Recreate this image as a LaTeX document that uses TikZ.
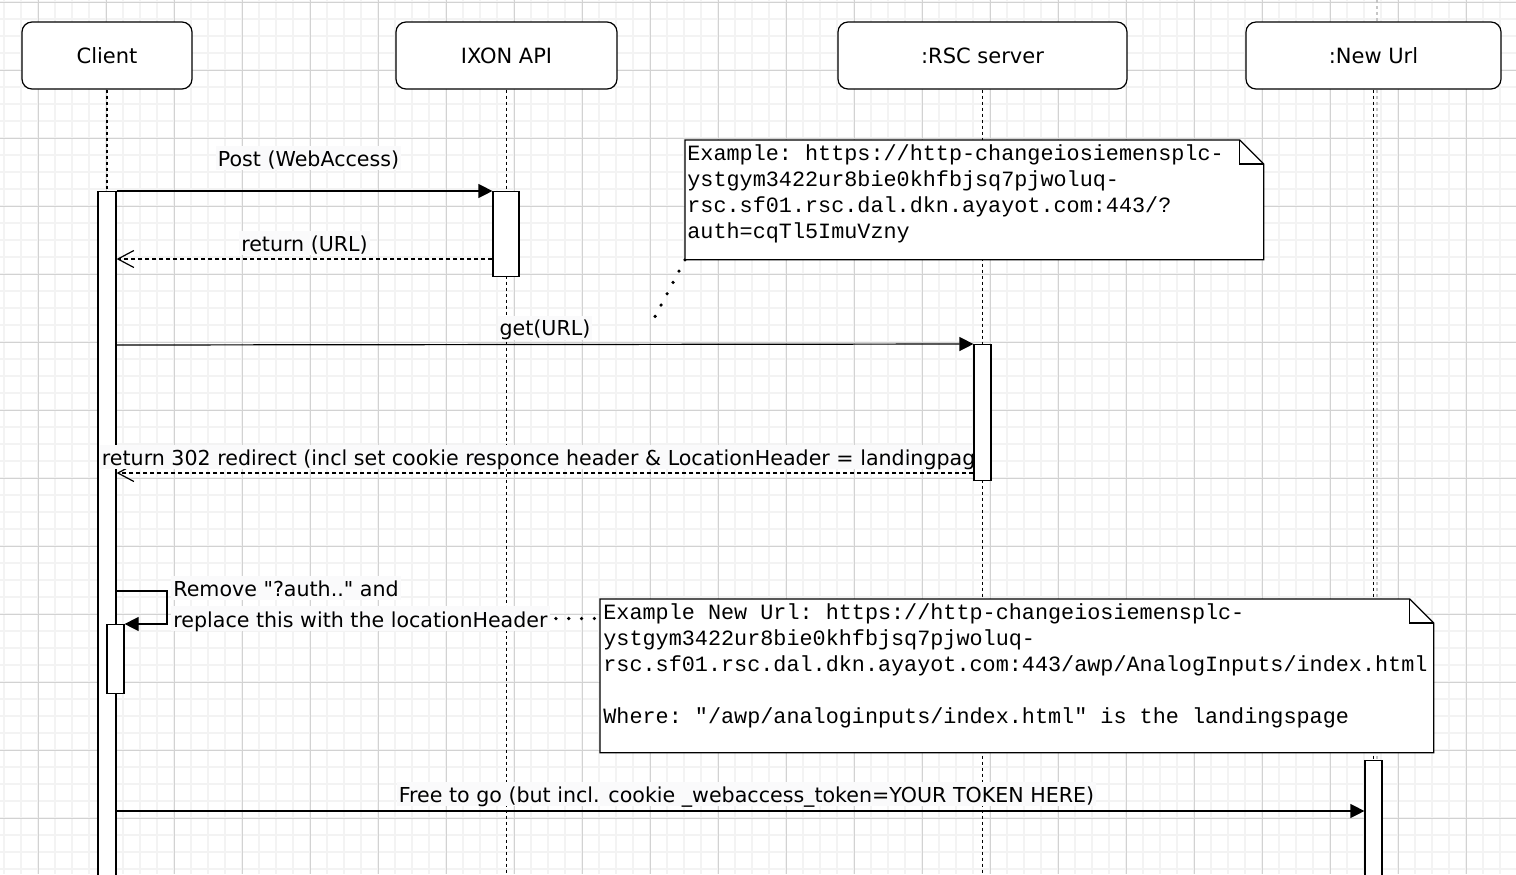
\documentclass[tikz,border=0pt]{standalone}
\usepackage{fontspec}
\setmainfont{DejaVu Sans}[Ligatures=TeXOff]
\setmonofont{Liberation Mono}
\usetikzlibrary{arrows.meta,positioning}
\definecolor{gridminor}{RGB}{243,243,243}
\definecolor{gridmajor}{RGB}{210,210,210}
\definecolor{lblbg}{RGB}{250,250,251}

\tikzset{
  head/.style={draw, rounded corners=5pt, line width=0.6pt, fill=white,
               minimum height=33.5pt, font=\fontsize{10.5}{12}\selectfont},
  life/.style={dash pattern=on 1.5pt off 1.5pt, line width=0.65pt},
  act/.style={draw, fill=white, line width=0.6pt, inner sep=0pt},
  msg/.style={-{Triangle[length=7pt,width=7pt]}, line width=0.6pt},
  ret/.style={-{Straight Barb[length=8pt,width=8.5pt]}, line width=0.6pt,
              dash pattern=on 2pt off 1.5pt},
  lbl/.style={font=\fontsize{10.3}{12}\selectfont, fill=lblbg, inner xsep=1pt,
              inner ysep=0pt, text height=10pt, text depth=2pt},
  notebox/.style={inner sep=0pt},
  notetext/.style={font=\ttfamily\fontsize{10.9}{13}\selectfont, align=left, inner sep=0pt},
  dots/.style={line width=1.8pt, line cap=round, dash pattern=on 0pt off 6.4pt},
}

\begin{document}
\begin{tikzpicture}[x=0.5pt, y=-0.5pt]
  \useasboundingbox[fill=white] (0,0) rectangle (1516,874);

  % grid
  \foreach \x in {4,21,...,1516} \draw[gridminor, line width=0.9pt] (\x,0) -- (\x,874);
  \foreach \y in {2,19,...,874} \draw[gridminor, line width=0.9pt] (0,\y) -- (1516,\y);
  \foreach \x in {38,106,...,1516} \draw[gridmajor, line width=0.5pt] (\x,0) -- (\x,874);
  \foreach \y in {2,70,...,874} \draw[gridmajor, line width=0.5pt] (0,\y) -- (1516,\y);

  \draw[life, gray!45] (1377,0) -- (1377,874);

  % lifelines
  \node[head, minimum width=85pt]    (client) at (107,55.5)    {Client};
  \node[head, minimum width=110.5pt] (ixon)   at (506.5,55.5)  {IXON API};
  \node[head, minimum width=144.5pt] (rsc)    at (982.5,55.5)  {:RSC server};
  \node[head, minimum width=127.5pt] (newurl) at (1373.5,55.5) {:New Url};
  \foreach \n in {client,ixon,rsc,newurl}
    \draw[life] (\n.south) -- (\n.south |- 0,874);

  % activations
  \node[act, minimum width=9pt,   minimum height=349.5pt, anchor=north] (aclient) at (107,191)    {};
  \node[act, minimum width=13pt,  minimum height=42.5pt,  anchor=north] (aixon)   at (506,191)    {};
  \node[act, minimum width=8.5pt, minimum height=68pt,    anchor=north] (arsc)    at (982.5,344)  {};
  \node[act, minimum width=8.5pt, minimum height=65pt,    anchor=north] (anew)    at (1373.5,760) {};

  % messages
  \draw[msg] (aclient.north east) -- node[lbl, midway, anchor=base, yshift=12.5pt, xshift=2pt] (lpost) {Post (WebAccess)} (aixon.north west);
  \draw[ret] (aixon.west |- 0,259) -- node[lbl, midway, anchor=base, yshift=4pt] (lurl) {return (URL)} (aclient.east |- 0,259);
  \draw[msg] (aclient.east |- 0,345) -- node[lbl, midway, anchor=base, yshift=4.5pt] (lget) {get(URL)} (arsc.north west);
  \draw[ret] (arsc.west |- 0,473) -- node[lbl, midway, anchor=base, yshift=4pt] (lredir) {return 302 redirect (incl set cookie responce header \& LocationHeader = landingpage} (aclient.east |- 0,473);
  \draw[msg] (aclient.east |- 0,811) -- node[lbl, midway, anchor=base, yshift=4.5pt, xshift=3pt] (lfree) {Free to go (but incl. cookie \_webaccess\_token=YOUR TOKEN HERE)} (anew.west |- 0,811);

  % rsc activation drawn over the long label
  \node[act, minimum width=8.5pt, minimum height=68pt, anchor=north] at (982.5,344) {};

  % self call
  \node[act, minimum width=8.5pt, minimum height=34.5pt, anchor=north] (aself) at (115.5,624) {};
  \coordinate (selfturn) at (167,624);
  \draw[msg] (aclient.east |- 0,591) -| (selfturn) -- (aself.north east);
  \node[lbl, anchor=base west] (lself1) at (171,596) {Remove "?auth.." and};
  \node[lbl, anchor=base west, text height=10.5pt] (lself2) at (171,627) {replace this with the locationHeader};

  % notes
  \node[notebox, minimum width=289pt, minimum height=59.5pt, anchor=north west] (note1) at (685,140) {};
  \node[notebox, minimum width=416.5pt, minimum height=76.5pt, anchor=north west] (note2) at (600,599) {};
  \coordinate (n1tail) at (650,326);
  \draw[dots] (note1.south west) -- (n1tail);
  \draw[dots] ([xshift=3pt]lself2.east) -- (note2.west |- lself2.east);
  \foreach \n in {note1,note2} {
    \filldraw[fill=white, line width=0.6pt] (\n.north west) -- ([xshift=-12pt]\n.north east)
      -- ([yshift=-12pt]\n.north east) -- (\n.south east) -- (\n.south west) -- cycle;
    \draw[line width=0.6pt] ([xshift=-12pt]\n.north east) |- ([yshift=-12pt]\n.north east);
  }
  \node[notetext, anchor=base west] (note1txt) at ([shift={(2,98)}]note1.north west)
    {Example: https://http-changeiosiemensplc-\\ystgym3422ur8bie0khfbjsq7pjwoluq-\\rsc.sf01.rsc.dal.dkn.ayayot.com:443/?\\auth=cqTl5ImuVzny};
  \node[notetext, anchor=base west] (note2txt) at ([shift={(3,124)}]note2.north west)
    {Example New Url: https://http-changeiosiemensplc-\\ystgym3422ur8bie0khfbjsq7pjwoluq-\\rsc.sf01.rsc.dal.dkn.ayayot.com:443/awp/AnalogInputs/index.html\\[13pt]Where: "/awp/analoginputs/index.html" is the landingspage};
\end{tikzpicture}
\end{document}
